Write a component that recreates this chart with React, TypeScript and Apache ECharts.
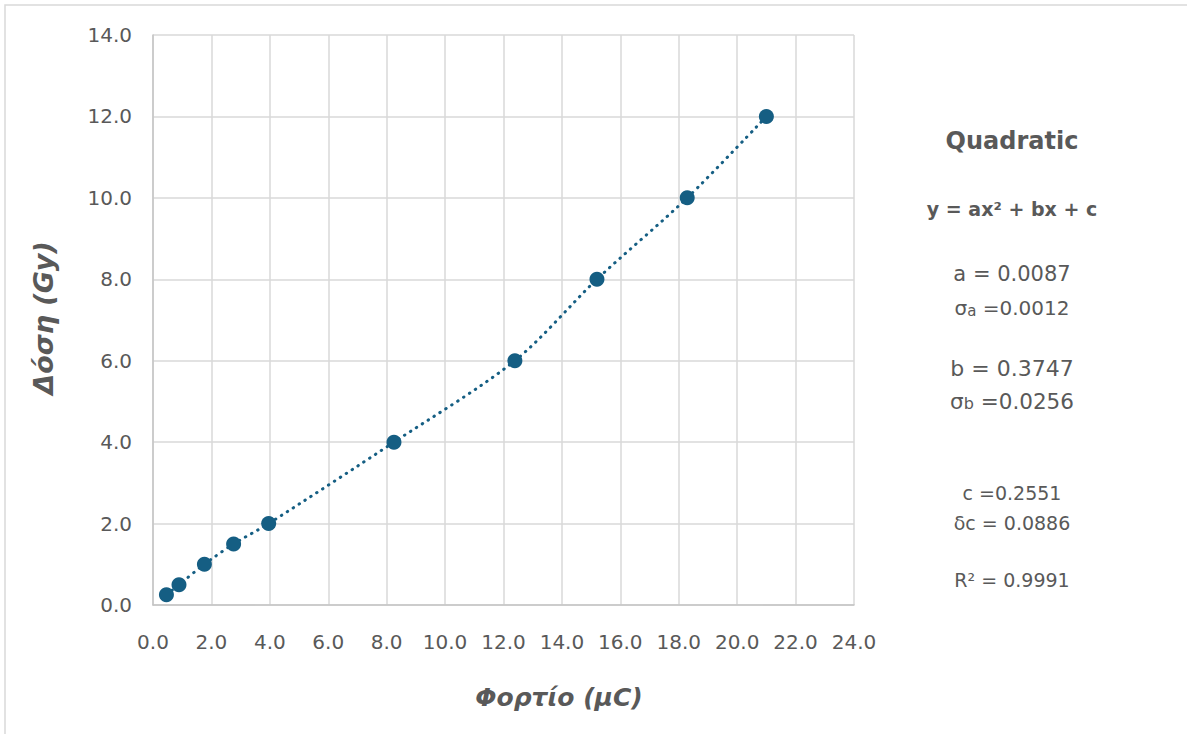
import React, { useEffect, useRef } from "react";
import * as echarts from "echarts";

const chargeX = [0.46, 0.89, 1.76, 2.76, 3.96, 8.25, 12.39, 15.2, 18.29, 21.0];
const doseY = [0.25, 0.5, 1.0, 1.5, 2.0, 4.0, 6.0, 8.0, 10.0, 12.0];
const xTitle = "Φορτίο (μC)";
const yTitle = "Δόση (Gy)";

const FONT = "'DejaVu Sans', sans-serif";
const GREY = "#595959";
const BLUE = "#155e83";

export default function App() {
  const ref = useRef<HTMLDivElement>(null);
  useEffect(() => {
    if (!ref.current) return;
    const chart = echarts.init(ref.current, undefined, { renderer: "svg" });
    const pts = chargeX.map((x, i) => [x, doseY[i]]);
    const cx = 1012;
    const txt = (y: number, text: string, size: number, bold = false, rich?: any) => ({
      type: "text",
      x: cx,
      y,
      style: {
        text,
        fill: GREY,
        fontFamily: FONT,
        fontSize: size,
        fontWeight: bold ? "bold" : "normal",
        align: "center",
        verticalAlign: "middle",
        rich,
      },
    });
    const sub = (fs: number) => ({
      s: { fontSize: fs, fill: GREY, fontFamily: FONT, padding: [5, 0, 0, 0] },
    });
    chart.setOption({
      animation: false,
      backgroundColor: "#ffffff",
      textStyle: { fontFamily: FONT },
      grid: { left: 153, right: 333, top: 35, bottom: 129, containLabel: false },
      xAxis: {
        type: "value",
        min: 0,
        max: 24,
        interval: 2,
        axisLine: { show: true, lineStyle: { color: "#c4c4c4", width: 1.5 } },
        axisTick: { show: false },
        axisLabel: { color: GREY, fontSize: 20, margin: 27, formatter: (v: number) => v.toFixed(1), fontFamily: FONT },
        splitLine: { show: true, lineStyle: { color: "#d9d9d9", width: 1.5 } },
      },
      yAxis: {
        type: "value",
        min: 0,
        max: 14,
        interval: 2,
        axisLine: { show: true, lineStyle: { color: "#c4c4c4", width: 1.5 } },
        axisTick: { show: false },
        axisLabel: { color: GREY, fontSize: 20, margin: 21, formatter: (v: number) => v.toFixed(1), fontFamily: FONT },
        splitLine: { show: true, lineStyle: { color: "#d9d9d9", width: 1.5 } },
      },
      series: [
        {
          type: "line",
          data: pts,
          smooth: 0.3,
          showSymbol: false,
          symbol: "none",
          lineStyle: { color: BLUE, width: 3, type: [0.5, 6.5], cap: "round" },
          z: 2,
        },
        {
          type: "scatter",
          data: pts,
          symbol: "circle",
          symbolSize: 15,
          itemStyle: { color: BLUE, opacity: 1 },
          z: 3,
        },
      ],
      graphic: [
        {
          type: "rect",
          shape: { x: 5, y: 5, width: 1220, height: 780 },
          style: { fill: "none", stroke: "#d9d9d9", lineWidth: 1.5 },
          silent: true,
        },
        {
          type: "text",
          x: 559,
          y: 697,
          style: {
            text: xTitle,
            fill: GREY,
            fontFamily: FONT,
            fontSize: 25,
            fontWeight: "bold",
            fontStyle: "italic",
            align: "center",
            verticalAlign: "middle",
          },
        },
        {
          type: "text",
          x: 43,
          y: 318,
          rotation: Math.PI / 2,
          style: {
            text: yTitle,
            fill: GREY,
            fontFamily: FONT,
            fontSize: 27,
            fontWeight: "bold",
            fontStyle: "italic",
            align: "center",
            verticalAlign: "middle",
          },
        },
        txt(141, "Quadratic", 24, true),
        txt(209, "y = ax² + bx + c", 19, true),
        txt(274, "a = 0.0087", 21),
        txt(308, "σ{s|a} =0.0012", 20, false, sub(15)),
        txt(368, "b = 0.3747", 22),
        txt(401, "σ{s|b} =0.0256", 21.5, false, sub(16)),
        txt(493, "c =0.2551", 19),
        txt(523, "δc = 0.0886", 19),
        txt(580, "R² = 0.9991", 19),
      ],
    });
    return () => chart.dispose();
  }, []);
  return (
    <div
      ref={ref}
      style={{ position: "fixed", left: 0, top: 0, width: 1187, height: 734 }}
    />
  );
}
